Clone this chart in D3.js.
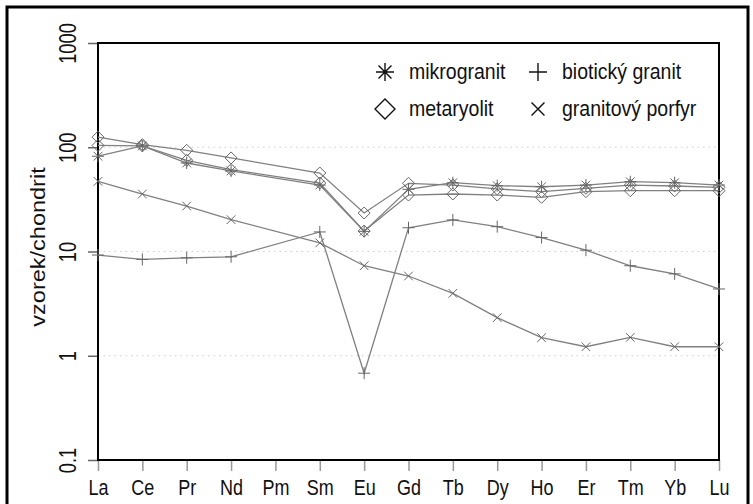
<!DOCTYPE html>
<html>
<head>
<meta charset="utf-8">
<script src="https://cdn.jsdelivr.net/npm/d3@7"></script>
<style>
  body { margin: 0; background: #fff; }
  svg text { font-family: "Liberation Sans", Arial, sans-serif; fill: #111; }
</style>
</head>
<body>
<svg id="chart" width="753" height="504"></svg>
<script>
// REE elements (chondrite normalised), Pm not analysed
const elements = ["La", "Ce", "Pr", "Nd", "Pm", "Sm", "Eu", "Gd", "Tb", "Dy", "Ho", "Er", "Tm", "Yb", "Lu"];
const yTicks = [0.1, 1, 10, 100, 1000];
const gridValues = [1, 10, 100];

const metaryolitA = [125, 106, 93.5, 79, null, 56.6, 23.4, 45.1, 43.4, 39.8, 37.5, 40.4, 43.4, 42.5, 41.3];
const metaryolitB = [104, 103, 75, 61, null, 45.4, 15.7, 34.8, 35.6, 34.8, 33.1, 37.5, 38.3, 38.3, 38.3];
const mikrogranit = [82, 103, 70.6, 59.2, null, 43.4, 15.6, 39.5, 45.7, 42.8, 41.8, 43.4, 46.7, 45.7, 43.4];
const bioticky = [9.25, 8.4, 8.7, 8.9, null, 15.4, 0.68, 16.9, 20.1, 17.3, 13.6, 10.3, 7.3, 6.1, 4.37];
const porfyr = [47.1, 35.6, 27.3, 20.2, null, 12.1, 7.3, 5.82, 3.97, 2.32, 1.49, 1.22, 1.5, 1.22, 1.22];

const series = [
    { name: "metaryolit A", values: metaryolitA, marker: "diamond" },
    { name: "metaryolit B", values: metaryolitB, marker: "diamond" },
    { name: "mikrogranit", values: mikrogranit, marker: "asterisk" },
    { name: "biotický granit", values: bioticky, marker: "plus" },
    { name: "granitový porfyr", values: porfyr, marker: "cross" },
];

const legendItems = [
    { label: "mikrogranit", marker: "asterisk", col: 0, row: 0 },
    { label: "biotický granit", marker: "plus", col: 1, row: 0 },
    { label: "metaryolit", marker: "diamond", col: 0, row: 1 },
    { label: "granitový porfyr", marker: "cross", col: 1, row: 1 },
];

//Layout
const plot = { left: 98, right: 719, top: 43, bottom: 460 };
const lineColor = "#808080";

const svg = d3.select("#chart");

// outer frame
svg.append("rect")
    .attr("x", 7).attr("y", 7)
    .attr("width", 741).attr("height", 520)
    .attr("fill", "none")
    .attr("stroke", "#000")
    .attr("stroke-width", 3);

//Scales
const x = d3.scalePoint()
    .domain(elements)
    .range([plot.left, plot.right]);

const y = d3.scaleLog()
    .domain([0.1, 1000])
    .range([plot.bottom, plot.top]);

//Grid
svg.append("g")
    .selectAll("line")
    .data(gridValues)
    .join("line")
    .attr("x1", plot.left).attr("x2", plot.right)
    .attr("y1", d => y(d)).attr("y2", d => y(d))
    .attr("stroke", "#cfcfcf")
    .attr("stroke-width", 1)
    .attr("stroke-dasharray", "1.5,4");

//Axes
const xAxis = d3.axisBottom(x).tickSize(11);
const gx = svg.append("g")
    .attr("transform", `translate(0, ${plot.bottom})`)
    .call(xAxis);
gx.select(".domain").remove();
gx.selectAll(".tick line").attr("stroke", "#999").attr("stroke-width", 1.5);
gx.selectAll(".tick text")
    .attr("font-size", 18)
    .attr("y", 0).attr("dy", 0)
    .attr("transform", "translate(0, 35) scale(1, 1.18)");

const yAxis = d3.axisLeft(y).tickValues(yTicks).tickFormat(d => String(d)).tickSize(10);
const gy = svg.append("g")
    .attr("transform", `translate(${plot.left}, 0)`)
    .call(yAxis);
gy.select(".domain").remove();
gy.selectAll(".tick line").attr("stroke", "#666").attr("stroke-width", 1.5);
gy.selectAll(".tick text")
    .attr("font-size", 24)
    .attr("x", 0).attr("dy", 0)
    .attr("text-anchor", "middle")
    .attr("transform", "translate(-22, 0) rotate(-90) scale(0.76, 1)");

// plot box
svg.append("rect")
    .attr("x", plot.left).attr("y", plot.top)
    .attr("width", plot.right - plot.left)
    .attr("height", plot.bottom - plot.top)
    .attr("fill", "none")
    .attr("stroke", "#000")
    .attr("stroke-width", 2);

svg.append("text")
    .attr("transform", `translate(45, 247) rotate(-90) scale(1.12, 1)`)
    .attr("text-anchor", "middle")
    .attr("font-size", 21)
    .text("vzorek/chondrit");

//Markers
const drawMarker = (g, type, cx, cy, s, color, width) => {
    const p = d3.path();
    if (type === "diamond") {
        p.moveTo(cx, cy - s); p.lineTo(cx + s, cy); p.lineTo(cx, cy + s); p.lineTo(cx - s, cy); p.closePath();
    } else if (type === "plus") {
        p.moveTo(cx - s, cy); p.lineTo(cx + s, cy); p.moveTo(cx, cy - s); p.lineTo(cx, cy + s);
    } else if (type === "cross") {
        const k = s * 0.72;
        p.moveTo(cx - k, cy - k); p.lineTo(cx + k, cy + k); p.moveTo(cx - k, cy + k); p.lineTo(cx + k, cy - k);
    } else if (type === "asterisk") {
        const k = s * 0.72;
        p.moveTo(cx - s, cy); p.lineTo(cx + s, cy); p.moveTo(cx, cy - s); p.lineTo(cx, cy + s);
        p.moveTo(cx - k, cy - k); p.lineTo(cx + k, cy + k); p.moveTo(cx - k, cy + k); p.lineTo(cx + k, cy - k);
    }
    g.append("path")
        .attr("d", p.toString())
        .attr("fill", "none")
        .attr("stroke", color)
        .attr("stroke-width", width);
};

const markerSize = { diamond: 6, plus: 6, cross: 6, asterisk: 6 };

//Lines
const line = d3.line()
    .x(d => x(d.el))
    .y(d => y(d.v));

const linesG = svg.append("g");
for (const s of series) {
    const pts = elements
        .map((el, i) => ({ el, v: s.values[i] }))
        .filter(d => d.v != null);
    linesG.append("path")
        .datum(pts)
        .attr("d", line)
        .attr("fill", "none")
        .attr("stroke", lineColor)
        .attr("stroke-width", 1.3);
    const mg = linesG.append("g");
    for (const d of pts) {
        drawMarker(mg, s.marker, x(d.el), y(d.v), markerSize[s.marker], "#666", 1);
    }
}

//Legend
const legend = svg.append("g");
const legendCols = [385, 538];
const legendRows = [72, 109];
for (const item of legendItems) {
    const cx = legendCols[item.col];
    const cy = legendRows[item.row];
    const sz = item.marker === "diamond" ? 10 : 9;
    drawMarker(legend, item.marker, cx, cy, sz, "#111", 1.4);
    legend.append("text")
        .attr("transform", `translate(${cx + 24}, ${cy + 7}) scale(1, 1.12)`)
        .attr("font-size", 19.5)
        .text(item.label);
}
</script>
</body>
</html>
